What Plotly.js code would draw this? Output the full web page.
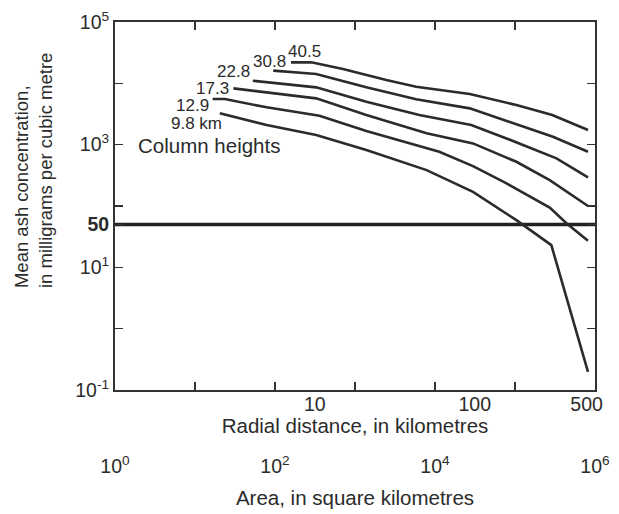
<!DOCTYPE html>
<html>
<head>
<meta charset="utf-8">
<script src="https://cdn.plot.ly/plotly-3.0.1.min.js"></script>
<style>html,body{margin:0;padding:0;background:#fff;}#chart{width:619px;height:514px;}</style>
</head>
<body>
<div id="chart"></div>
<script>
// Column heights (km) labels
const heightLabels = ['40.5', '30.8', '22.8', '17.3', '12.9', '9.8 km'];

// Radial distance (km) and mean ash concentration (mg/m^3) for each column height
const dist40_5 = [7.1, 9.5, 15, 28, 43, 93, 182, 305, 510];
const conc40_5 = [22000, 22000, 17100, 11300, 8800, 6700, 4430, 3050, 1730];

const dist30_8 = [5.5, 10.2, 21, 43, 93, 165, 308, 510];
const conc30_8 = [16100, 14200, 8600, 5480, 3910, 2360, 1345, 765];

const dist22_8 = [4.1, 10.2, 21, 45, 95, 158, 324, 510];
const conc22_8 = [11000, 8600, 5010, 3040, 2090, 1265, 597, 292];

const dist17_3 = [3.1, 10.2, 21, 50, 97.5, 182, 294, 510];
const conc17_3 = [8280, 5690, 3040, 1530, 1050, 526, 264, 100];

const dist12_9 = [2.3, 2.74, 5.0, 10.7, 21, 60, 97.5, 158, 294, 374, 510];
const conc12_9 = [5540, 5540, 4060, 2960, 1667, 765, 447, 233, 94, 52.5, 27.2];

const dist9_8 = [2.55, 5.0, 10.2, 21, 50, 97.5, 182, 301, 510];
const conc9_8 = [3240, 2090, 1432, 816, 385, 170, 58.8, 23, 0.197];

// Threshold line
const thresholdValue = 50;
const areaExtent = [1, 1e6];

// Tick labels
const yTickVals = [0.1, 10, 50, 1e3, 1e5];
const yTickText = ['10<sup>-1</sup>', '10<sup>1</sup>', '<b>50</b>', '10<sup>3</sup>', '10<sup>5</sup>'];
const yMinorTickVals = [1, 100, 1e4];
const areaTickVals = [1, 100, 1e4, 1e6];
const areaTickText = ['10<sup>0</sup>', '10<sup>2</sup>', '10<sup>4</sup>', '10<sup>6</sup>'];
const areaMinorTickVals = [10, 1e3, 1e5];
const radialTickVals = [10, 100, 500];
const radialTickText = ['10', '100', '500'];

const FONT = 'Liberation Sans, Arial, sans-serif';
const INK = '#2b2b2b';

const series = [
  [dist40_5, conc40_5], [dist30_8, conc30_8], [dist22_8, conc22_8],
  [dist17_3, conc17_3], [dist12_9, conc12_9], [dist9_8, conc9_8]
];

const traces = series.map((s, i) => ({
  x: s[0], y: s[1], xaxis: 'x2', yaxis: 'y', type: 'scatter', mode: 'lines',
  name: heightLabels[i], line: {color: INK, width: 2.6}, hoverinfo: 'x+y'
}));
traces.push({
  x: areaExtent, y: [thresholdValue, thresholdValue], xaxis: 'x', yaxis: 'y',
  type: 'scatter', mode: 'lines', line: {color: '#222', width: 3.5}, name: '50'
});

// label offsets (pixels) relative to the start of each curve
const labelShift = [[14, 11], [-4, 9], [-19, 9], [-21, 0], [-20, -6], [-23, -10]];
const annotations = series.map((s, i) => ({
  x: Math.log10(s[0][0]), y: Math.log10(s[1][0]), xref: 'x2', yref: 'y',
  text: heightLabels[i], showarrow: false, xanchor: 'center', yanchor: 'middle',
  xshift: labelShift[i][0], yshift: labelShift[i][1],
  font: {family: FONT, size: 17, color: INK}
}));
annotations.push({
  x: 0.196, y: 0.665, xref: 'paper', yref: 'paper', text: 'Column heights',
  showarrow: false, xanchor: 'center', yanchor: 'middle',
  font: {family: FONT, size: 20.5, color: INK}
});
annotations.push({
  x: -0.17, y: 0.596, xref: 'paper', yref: 'paper',
  text: 'Mean ash concentration,<br>in milligrams per cubic metre',
  showarrow: false, xanchor: 'center', yanchor: 'middle', textangle: -90, align: 'left',
  font: {family: FONT, size: 18.5, color: INK}
});

const rLo = Math.log10(Math.sqrt(areaExtent[0] / Math.PI));
const rHi = Math.log10(Math.sqrt(areaExtent[1] / Math.PI));

const minorTicks = (vals) => ({tickmode: 'array', tickvals: vals, ticks: 'inside', ticklen: 8, tickwidth: 1.5, tickcolor: '#333', showgrid: false});

const layout = {
  width: 619, height: 514,
  margin: {l: 115, r: 24, t: 22, b: 124},
  paper_bgcolor: '#fff', plot_bgcolor: '#fff',
  showlegend: false,
  font: {family: FONT, size: 20, color: INK},
  xaxis: {
    type: 'log', range: [0, 6], tickmode: 'array', tickvals: areaTickVals, ticktext: areaTickText,
    ticks: 'inside', ticklen: 8, tickwidth: 1.5, tickcolor: '#333',
    minor: minorTicks(areaMinorTickVals),
    showline: true, linewidth: 2, linecolor: '#333', mirror: 'ticks',
    showgrid: false, zeroline: false, ticklabelstandoff: 58,
    tickfont: {family: FONT, size: 19.5, color: INK},
    title: {text: 'Area, in square kilometres', standoff: 14, font: {family: FONT, size: 20.5, color: INK}}
  },
  xaxis2: {
    type: 'log', range: [rLo, rHi], overlaying: 'x', side: 'bottom', anchor: 'y',
    tickmode: 'array', tickvals: radialTickVals, ticktext: radialTickText,
    ticks: '', showline: false, showgrid: false, zeroline: false,
    tickfont: {family: FONT, size: 19.5, color: INK},
    title: {text: 'Radial distance, in kilometres', standoff: 0, font: {family: FONT, size: 20.5, color: INK}}
  },
  yaxis: {
    type: 'log', range: [-1, 5], tickmode: 'array', tickvals: yTickVals, ticktext: yTickText,
    ticks: 'inside', ticklen: 8, tickwidth: 1.5, tickcolor: '#333',
    minor: minorTicks(yMinorTickVals),
    showline: true, linewidth: 2, linecolor: '#333', mirror: 'ticks',
    showgrid: false, zeroline: false,
    tickfont: {family: FONT, size: 19.5, color: INK}
  },
  annotations: annotations
};

Plotly.newPlot('chart', traces, layout, {displayModeBar: false, staticPlot: true});
</script>
</body>
</html>
